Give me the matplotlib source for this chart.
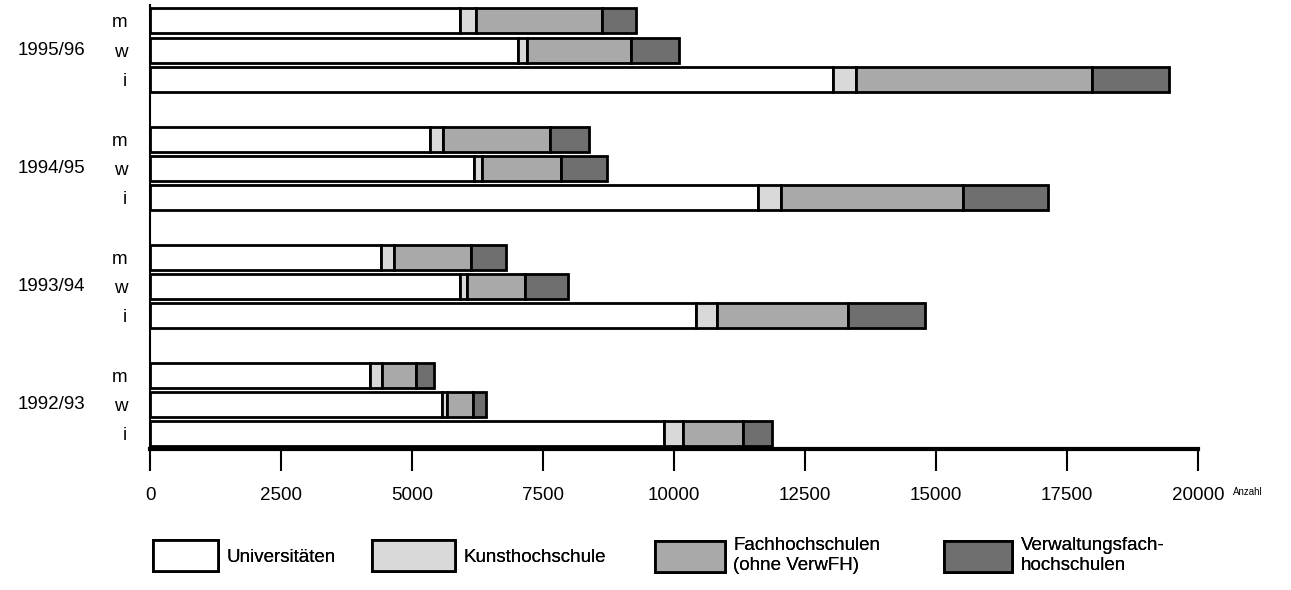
import numpy as np
import matplotlib
matplotlib.use('Agg')
import matplotlib.pyplot as plt

plt.rcParams['font.family'] = ['Liberation Sans', 'DejaVu Sans']

# Studierende nach Hochschulart, Semester und Geschlecht
semester = ['1992/93', '1993/94', '1994/95', '1995/96']
rows = ['i', 'w', 'm']

# per semester: [i, w, m]
uni   = [[9810, 5570, 4200], [10420, 5920, 4410], [11600, 6180, 5340], [13030, 7020, 5920]]
kunst = [[360, 100, 230], [400, 130, 250], [440, 150, 250], [440, 180, 300]]
fh    = [[1150, 500, 650], [2500, 1110, 1470], [3470, 1510, 2040], [4500, 1980, 2400]]
verw  = [[550, 250, 340], [1470, 810, 670], [1620, 880, 740], [1480, 910, 650]]

names = ['Universitäten', 'Kunsthochschule', 'Fachhochschulen\n(ohne VerwFH)',
         'Verwaltungsfach-\nhochschulen']
colors = ['white', '#d9d9d9', '#a9a9a9', '#6f6f6f']

FS = 13.5

fig = plt.figure(figsize=(12.91, 5.90), dpi=100)
ax = fig.add_axes([150/1291, 141/590, 1048/1291, 444/590])

gstep = 4.07
ypos = []
ylab = []
for g in range(len(semester)):
    for r in range(len(rows)):
        ypos.append(g*gstep + r)
        ylab.append(rows[r])
ypos = np.array(ypos)

series = [np.array(s).ravel() for s in (uni, kunst, fh, verw)]
left = np.zeros(len(ypos))
handles = []
for vals, col, nm in zip(series, colors, names):
    b = ax.barh(ypos, vals, left=left, height=0.86, color=col,
                edgecolor='black', linewidth=2, label=nm)
    handles.append(b)
    left += vals

ax.set_xlim(0, 20000)
ax.set_ylim(-0.52, (len(semester)-1)*gstep + 2.55)
ax.set_xticks(np.arange(0, 20001, 2500))
ax.set_xticklabels([str(v) for v in range(0, 20001, 2500)], fontsize=FS)
ax.tick_params(axis='x', direction='out', length=16, width=1.5, pad=11)
ax.set_yticks(ypos)
ax.set_yticklabels(ylab, fontsize=FS)
ax.tick_params(axis='y', length=0, pad=16.5)

for g, s in enumerate(semester):
    ax.text(-0.062, g*gstep + 1, s, transform=ax.get_yaxis_transform(),
            ha='right', va='center', fontsize=FS)

# unit label next to the last tick label
ax.annotate('Anzahl', xy=(1.0, 0), xycoords='axes fraction', xytext=(35, -43),
            textcoords='offset pixels', fontsize=7, va='center', ha='left')

for sp in ['top', 'right']:
    ax.spines[sp].set_visible(False)
ax.spines['bottom'].set_linewidth(3)
ax.spines['left'].set_linewidth(1.5)

# legend items placed one by one like in the original
leg_x = [153, 372, 655, 944]
leg_len = [3.47, 4.44, 3.73, 3.64]
for h, x, hl in zip(handles, leg_x, leg_len):
    lg = fig.legend(handles=[h], loc='center left', bbox_to_anchor=(x/1291, 0.058),
                    frameon=False, fontsize=FS, handlelength=hl, handleheight=2.15,
                    handletextpad=0.45, borderpad=0, borderaxespad=0)
    fig.add_artist(lg)

fig.savefig('out.png', dpi=100)
